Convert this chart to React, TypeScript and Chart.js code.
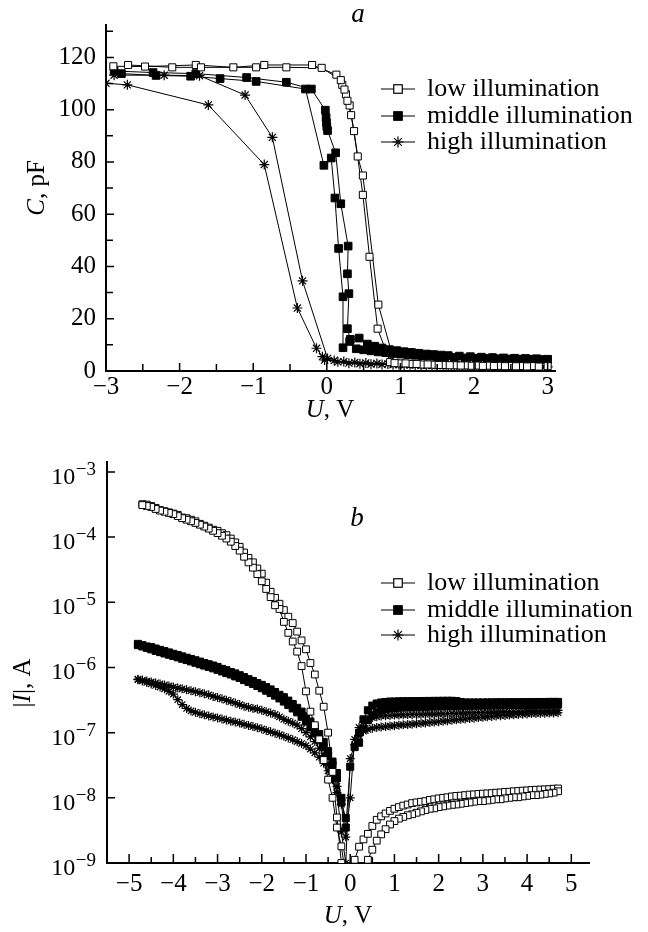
import React, { useEffect, useRef } from "react";
import { Chart, registerables } from "chart.js";

Chart.register(...registerables);

const SERIF = '"Liberation Serif", "Times New Roman", Times, serif';

const seriesNames = ["low illumination", "middle illumination", "high illumination"];

// ---------------- Panel a : C (pF) vs U (V) ----------------
const aLowU = [-2.9, -2.47, -1.78, -1.27, -0.85, -0.2, 0.13, 0.21, 0.26, 0.31, 0.37, 0.49, 0.58, 0.69, 0.86, 1.0, 1.15, 1.3, 1.45, 1.6, 1.75, 1.9, 2.05, 2.2, 2.35, 2.5, 2.65, 2.8, 3.0, 2.88, 2.72, 2.57, 2.42, 2.27, 2.12, 1.97, 1.82, 1.67, 1.52, 1.37, 1.22, 1.07, 0.92, 0.7, 0.49, 0.42, 0.33, 0.28, 0.24, 0.19, -0.07, -0.55, -0.96, -1.71, -2.1, -2.7];
const aLowC = [116.6, 116.5, 117.1, 116.2, 117.1, 117.1, 113.4, 109.5, 105.9, 101.6, 91.8, 67.4, 43.7, 16.2, 3.4, 2.9, 2.7, 2.5, 2.4, 2.3, 2.2, 2.15, 2.1, 2.05, 2.0, 1.95, 1.9, 1.9, 1.85, 1.7, 1.75, 1.8, 1.85, 1.9, 1.95, 2.0, 2.1, 2.2, 2.3, 2.5, 2.7, 2.9, 3.0, 25.4, 74.8, 82.1, 97.9, 103.4, 107.7, 111.3, 116.0, 116.2, 116.2, 116.2, 116.2, 117.1];

const aMidU = [-2.89, -2.36, -1.78, -1.09, -0.55, -0.21, -0.02, -0.01, -0.005, 0.0, 0.01, 0.12, 0.19, 0.29, 0.28, 0.3, 0.28, 0.32, 0.44, 0.55, 0.65, 0.75, 0.85, 0.95, 1.05, 1.15, 1.25, 1.35, 1.45, 1.55, 1.65, 1.8, 1.95, 2.1, 2.25, 2.4, 2.55, 2.7, 2.85, 3.0, 2.93, 2.78, 2.63, 2.48, 2.33, 2.18, 2.03, 1.88, 1.73, 1.6, 1.5, 1.4, 1.3, 1.2, 1.1, 1.0, 0.9, 0.8, 0.7, 0.6, 0.5, 0.4, 0.31, 0.22, 0.22, 0.16, 0.11, 0.06, -0.04, -0.29, -0.96, -1.45, -1.85, -2.32, -2.79];
const aMidC = [114.8, 114.2, 113.8, 112.3, 110.5, 107.9, 99.8, 97.0, 95.0, 93.5, 92.0, 83.5, 64.0, 47.8, 37.2, 29.6, 16.2, 12.1, 12.6, 10.3, 9.5, 8.8, 8.2, 7.8, 7.4, 7.1, 6.8, 6.5, 6.3, 6.1, 5.9, 5.7, 5.5, 5.3, 5.15, 5.0, 4.9, 4.8, 4.7, 4.5, 4.4, 4.5, 4.55, 4.6, 4.7, 4.8, 4.9, 5.0, 5.2, 5.35, 5.5, 5.7, 5.85, 6.0, 6.2, 6.45, 6.7, 7.0, 7.3, 7.7, 8.1, 8.5, 11.3, 8.9, 28.4, 46.9, 66.2, 81.5, 78.7, 107.9, 110.8, 111.9, 112.8, 113.1, 113.8];

const aHighU = [-2.89, -2.21, -1.73, -1.11, -0.74, -0.33, 0.01, 0.15, 0.3, 0.45, 0.6, 0.75, 0.9, 1.05, 1.2, 1.35, 1.5, 1.65, 1.8, 1.95, 2.1, 2.25, 2.4, 2.55, 2.7, 2.85, 3.0, 2.93, 2.78, 2.63, 2.48, 2.33, 2.18, 2.03, 1.88, 1.73, 1.58, 1.43, 1.28, 1.13, 0.98, 0.83, 0.68, 0.53, 0.38, 0.23, 0.1, -0.03, -0.06, -0.14, -0.4, -0.85, -1.61, -2.71, -3.0];
const aHighC = [113.2, 113.2, 113.0, 105.6, 89.4, 34.5, 4.8, 3.5, 3.0, 2.8, 2.6, 2.5, 2.4, 2.3, 2.2, 2.1, 2.05, 2.0, 1.95, 1.9, 1.85, 1.8, 1.75, 1.7, 1.7, 1.65, 1.6, 1.5, 1.55, 1.6, 1.65, 1.7, 1.75, 1.8, 1.85, 1.9, 2.0, 2.1, 2.2, 2.35, 2.5, 2.7, 2.9, 3.1, 3.3, 3.6, 4.0, 4.2, 5.5, 8.7, 24.1, 79.0, 101.8, 109.5, 110.1];

const aXLabels = [-3, -2, -1, 0, 1, 2, 3];
const aXMarks = [-3, -2.5, -2, -1.5, -1, -0.5, 0, 0.5, 1, 1.5, 2, 2.5, 3];
const aYLabels = [0, 20, 40, 60, 80, 100, 120];
const aYMarks = [0, 10, 20, 30, 40, 50, 60, 70, 80, 90, 100, 110, 120, 130];

// ---------------- Panel b : |I| (A) vs U (V) ----------------
const bLeftU = [-4.8, -4.7, -4.6, -4.5, -4.4, -4.3, -4.2, -4.1, -4.0, -3.9, -3.8, -3.7, -3.6, -3.5, -3.4, -3.3, -3.2, -3.1, -3.0, -2.9, -2.8, -2.7, -2.6, -2.5, -2.4, -2.3, -2.2, -2.1, -2.0, -1.9, -1.8, -1.7, -1.6, -1.5, -1.4, -1.3, -1.2, -1.1, -1.0, -0.9, -0.8, -0.7, -0.6, -0.5, -0.4, -0.3, -0.2, -0.1];
const bRightU = [0.0, 0.1, 0.2, 0.3, 0.4, 0.5, 0.6, 0.7, 0.8, 0.9, 1.0, 1.1, 1.2, 1.3, 1.4, 1.5, 1.6, 1.7, 1.8, 1.9, 2.0, 2.1, 2.2, 2.3, 2.4, 2.5, 2.6, 2.7, 2.8, 2.9, 3.0, 3.1, 3.2, 3.3, 3.4, 3.5, 3.6, 3.7, 3.8, 3.9, 4.0, 4.1, 4.2, 4.3, 4.4, 4.5, 4.6, 4.7];

const bLowLeft1 = [null, 3.2e-4, 3.15e-4, 3.0e-4, 2.8e-4, 2.6e-4, 2.5e-4, 2.4e-4, 2.3e-4, 2.2e-4, 2.0e-4, 1.95e-4, 1.85e-4, 1.75e-4, 1.6e-4, 1.5e-4, 1.4e-4, 1.3e-4, 1.25e-4, 1.15e-4, 1.07e-4, 9.5e-5, 8.3e-5, 7.1e-5, 5.8e-5, 4.8e-5, 4.1e-5, 3.3e-5, 2.75e-5, 2.0e-5, 1.45e-5, 1.17e-5, 9.5e-6, 7.6e-6, 6.0e-6, 4.8e-6, 3.55e-6, 2.6e-6, 1.9e-6, 1.17e-6, 7.8e-7, 4.4e-7, 2.5e-7, 1.0e-7, 2.5e-8, 5.0e-9, 1.0e-9, 2.5e-10];
const bLowLeft2 = [null, 3.1e-4, 3.0e-4, 2.9e-4, 2.7e-4, 2.55e-4, 2.45e-4, 2.35e-4, 2.25e-4, 2.1e-4, 1.95e-4, 1.85e-4, 1.75e-4, 1.65e-4, 1.55e-4, 1.45e-4, 1.35e-4, 1.25e-4, 1.15e-4, 1.05e-4, 9.5e-5, 8.5e-5, 7.3e-5, 6.2e-5, 5.0e-5, 4.1e-5, 3.4e-5, 2.7e-5, 2.1e-5, 1.6e-5, 1.2e-5, 9.0e-6, 7.9e-6, 5.0e-6, 3.4e-6, 2.5e-6, 1.75e-6, 1.05e-6, 4.3e-7, 2.1e-7, 1.3e-7, 7.9e-8, 3.8e-8, 1.9e-8, 1.0e-8, 3.5e-9, 1.8e-9, 6.3e-10];
const bLowRight1 = [null, 1.12e-9, 1.78e-9, 2.3e-9, 2.8e-9, 3.7e-9, 4.6e-9, 5.2e-9, 5.75e-9, 6.3e-9, 6.8e-9, 7.2e-9, 7.6e-9, 7.9e-9, 8.3e-9, 8.5e-9, 8.7e-9, 8.9e-9, 9.3e-9, 9.5e-9, 9.8e-9, 1.0e-8, 1.02e-8, 1.05e-8, 1.07e-8, 1.08e-8, 1.1e-8, 1.12e-8, 1.13e-8, 1.15e-8, 1.16e-8, 1.17e-8, 1.18e-8, 1.2e-8, 1.21e-8, 1.23e-8, 1.24e-8, 1.26e-8, 1.27e-8, 1.29e-8, 1.3e-8, 1.32e-8, 1.33e-8, 1.34e-8, 1.35e-8, 1.36e-8, 1.38e-8, 1.39e-8];
const bLowRight2 = [null, null, null, 6.3e-10, 1.12e-9, 1.6e-9, 2.2e-9, 2.75e-9, 3.3e-9, 3.9e-9, 4.4e-9, 4.8e-9, 5.1e-9, 5.4e-9, 5.6e-9, 5.9e-9, 6.2e-9, 6.5e-9, 6.8e-9, 6.9e-9, 7.2e-9, 7.4e-9, 7.6e-9, 7.8e-9, 7.9e-9, 8.1e-9, 8.3e-9, 8.5e-9, 8.7e-9, 8.9e-9, 8.9e-9, 9.1e-9, 9.3e-9, 9.5e-9, 9.5e-9, 9.8e-9, 1.0e-8, 1.02e-8, 1.02e-8, 1.05e-8, 1.07e-8, 1.1e-8, 1.1e-8, 1.12e-8, 1.15e-8, 1.17e-8, 1.2e-8, 1.26e-8];

const bMidLeft1 = [2.3e-6, 2.2e-6, 2.1e-6, 2.05e-6, 1.95e-6, 1.86e-6, 1.78e-6, 1.7e-6, 1.62e-6, 1.55e-6, 1.48e-6, 1.41e-6, 1.35e-6, 1.29e-6, 1.23e-6, 1.17e-6, 1.12e-6, 1.07e-6, 1.02e-6, 9.5e-7, 9.1e-7, 8.5e-7, 8.1e-7, 7.6e-7, 7.1e-7, 6.6e-7, 6.2e-7, 5.75e-7, 5.4e-7, 5.0e-7, 4.6e-7, 4.2e-7, 3.8e-7, 3.5e-7, 3.1e-7, 2.75e-7, 2.4e-7, 2.1e-7, 1.78e-7, 1.48e-7, 1.2e-7, 9.5e-8, 7.2e-8, 5.2e-8, 3.6e-8, 2.4e-8, 1.0e-8, 3.5e-9];
const bMidLeft2 = [2.2e-6, 2.1e-6, 2.0e-6, 1.9e-6, 1.8e-6, 1.72e-6, 1.64e-6, 1.57e-6, 1.5e-6, 1.43e-6, 1.36e-6, 1.3e-6, 1.24e-6, 1.18e-6, 1.12e-6, 1.07e-6, 1.02e-6, 9.7e-7, 9.2e-7, 8.7e-7, 8.2e-7, 7.8e-7, 7.3e-7, 6.9e-7, 6.4e-7, 6.0e-7, 5.6e-7, 5.2e-7, 4.8e-7, 4.4e-7, 4.05e-7, 3.7e-7, 3.35e-7, 3.0e-7, 2.65e-7, 2.35e-7, 2.05e-7, 1.75e-7, 1.48e-7, 1.2e-7, 9.8e-8, 7.8e-8, 6.0e-8, 4.4e-8, 3.2e-8, 2.0e-8, 8.5e-9, 4.9e-9];
const bMidRight1 = [3.0e-8, 6.0e-8, 1.0e-7, 1.6e-7, 2.2e-7, 2.6e-7, 2.8e-7, 2.9e-7, 2.95e-7, 3.0e-7, 3.0e-7, 3.02e-7, 3.03e-7, 3.03e-7, 3.04e-7, 3.05e-7, 3.05e-7, 3.06e-7, 3.06e-7, 3.07e-7, 3.07e-7, 3.08e-7, 3.08e-7, 3.08e-7, 3.05e-7, 2.95e-7, 2.9e-7, 2.9e-7, 2.9e-7, 2.9e-7, 2.9e-7, 2.91e-7, 2.91e-7, 2.92e-7, 2.92e-7, 2.92e-7, 2.93e-7, 2.93e-7, 2.93e-7, 2.94e-7, 2.94e-7, 2.94e-7, 2.95e-7, 2.95e-7, 2.95e-7, 2.96e-7, 2.96e-7, 2.96e-7];
const bMidRight2 = [null, null, 7.0e-8, 1.15e-7, 1.55e-7, 1.85e-7, 2.05e-7, 2.2e-7, 2.3e-7, 2.36e-7, 2.4e-7, 2.42e-7, 2.44e-7, 2.46e-7, 2.47e-7, 2.48e-7, 2.49e-7, 2.5e-7, 2.51e-7, 2.52e-7, 2.53e-7, 2.54e-7, 2.55e-7, 2.56e-7, 2.57e-7, 2.58e-7, 2.59e-7, 2.6e-7, 2.6e-7, 2.61e-7, 2.62e-7, 2.62e-7, 2.63e-7, 2.64e-7, 2.64e-7, 2.65e-7, 2.65e-7, 2.66e-7, 2.66e-7, 2.67e-7, 2.67e-7, 2.68e-7, 2.68e-7, 2.69e-7, 2.69e-7, 2.7e-7, 2.7e-7, 2.7e-7];

const bHighLeft1 = [6.6e-7, 6.4e-7, 6.2e-7, 6.0e-7, 5.8e-7, 5.6e-7, 5.4e-7, 5.2e-7, 5.0e-7, 4.85e-7, 4.7e-7, 4.55e-7, 4.4e-7, 4.25e-7, 4.1e-7, 3.95e-7, 3.8e-7, 3.6e-7, 3.45e-7, 3.3e-7, 3.15e-7, 3.0e-7, 2.85e-7, 2.7e-7, 2.55e-7, 2.45e-7, 2.35e-7, 2.3e-7, 2.2e-7, 2.1e-7, 2.0e-7, 1.9e-7, 1.75e-7, 1.6e-7, 1.5e-7, 1.4e-7, 1.3e-7, 1.15e-7, 1.0e-7, 8.6e-8, 7.3e-8, 5.8e-8, 4.4e-8, 3.2e-8, 2.3e-8, 1.5e-8, 8.0e-9, 2.5e-9];
const bHighLeft2 = [6.5e-7, 6.2e-7, 5.9e-7, 5.6e-7, 5.3e-7, 5.0e-7, 4.7e-7, 4.3e-7, 3.9e-7, 3.2e-7, 2.7e-7, 2.35e-7, 2.15e-7, 2.05e-7, 1.95e-7, 1.88e-7, 1.8e-7, 1.74e-7, 1.68e-7, 1.62e-7, 1.56e-7, 1.5e-7, 1.45e-7, 1.4e-7, 1.34e-7, 1.29e-7, 1.24e-7, 1.19e-7, 1.14e-7, 1.08e-7, 1.03e-7, 9.8e-8, 9.3e-8, 8.8e-8, 8.3e-8, 7.8e-8, 7.3e-8, 6.8e-8, 6.3e-8, 5.6e-8, 4.9e-8, 4.2e-8, 3.4e-8, 2.6e-8, 1.9e-8, 1.2e-8, 3.0e-9, 1.0e-9];
const bHighRight1 = [1.0e-8, 7.9e-8, 1.2e-7, 1.45e-7, 1.6e-7, 1.7e-7, 1.75e-7, 1.8e-7, 1.82e-7, 1.84e-7, 1.86e-7, 1.87e-7, 1.88e-7, 1.89e-7, 1.9e-7, 1.9e-7, 1.91e-7, 1.92e-7, 1.92e-7, 1.93e-7, 1.94e-7, 1.95e-7, 1.96e-7, 1.97e-7, 1.98e-7, 1.99e-7, 2.0e-7, 2.01e-7, 2.02e-7, 2.03e-7, 2.04e-7, 2.05e-7, 2.06e-7, 2.07e-7, 2.08e-7, 2.09e-7, 2.1e-7, 2.11e-7, 2.12e-7, 2.13e-7, 2.14e-7, 2.15e-7, 2.16e-7, 2.17e-7, 2.18e-7, 2.19e-7, 2.2e-7, 2.2e-7];
const bHighRight2 = [4.0e-8, 6.5e-8, 9.0e-8, 1.05e-7, 1.12e-7, 1.17e-7, 1.2e-7, 1.22e-7, 1.24e-7, 1.26e-7, 1.28e-7, 1.3e-7, 1.32e-7, 1.33e-7, 1.35e-7, 1.37e-7, 1.39e-7, 1.41e-7, 1.43e-7, 1.45e-7, 1.47e-7, 1.5e-7, 1.52e-7, 1.55e-7, 1.57e-7, 1.6e-7, 1.62e-7, 1.65e-7, 1.67e-7, 1.7e-7, 1.72e-7, 1.75e-7, 1.77e-7, 1.8e-7, 1.82e-7, 1.84e-7, 1.86e-7, 1.88e-7, 1.9e-7, 1.92e-7, 1.94e-7, 1.96e-7, 1.97e-7, 1.98e-7, 1.99e-7, 2.0e-7, 2.01e-7, 2.02e-7];

const bXLabels = [-5, -4, -3, -2, -1, 0, 1, 2, 3, 4, 5];
const bXMarks = [-5, -4.5, -4, -3.5, -3, -2.5, -2, -1.5, -1, -0.5, 0, 0.5, 1, 1.5, 2, 2.5, 3, 3.5, 4, 4.5, 5];
const bYDecades = [1e-9, 1e-8, 1e-7, 1e-6, 1e-5, 1e-4, 1e-3];
const bYExponents = ["\u22129", "\u22128", "\u22127", "\u22126", "\u22125", "\u22124", "\u22123"];

// ---------------- helpers ----------------
const fmtNum = (v: number) => (v < 0 ? "\u2212" + Math.abs(v) : String(v));

function zip(us: number[], vs: (number | null)[]) {
  return us.map((u, i) => ({ x: u, y: vs[i] }));
}

function loop(left1: (number | null)[], right1: (number | null)[], right2: (number | null)[], left2: (number | null)[]) {
  const pts: { x: number; y: number | null }[] = [];
  bLeftU.forEach((u, i) => pts.push({ x: u, y: left1[i] }));
  bRightU.forEach((u, i) => pts.push({ x: u, y: right1[i] }));
  for (let i = bRightU.length - 1; i >= 0; i--) pts.push({ x: bRightU[i], y: right2[i] });
  for (let i = bLeftU.length - 1; i >= 0; i--) pts.push({ x: bLeftU[i], y: left2[i] });
  return pts;
}

function ds(label: string, data: any[], kind: "open" | "filled" | "star", r: number) {
  return {
    label,
    data,
    showLine: true,
    spanGaps: false,
    borderColor: "#000",
    borderWidth: 1,
    tension: 0,
    fill: false,
    pointStyle: kind === "star" ? "star" : "rect",
    pointRadius: r,
    pointHoverRadius: r,
    pointBackgroundColor: kind === "open" ? "#fff" : "#000",
    pointBorderColor: "#000",
    pointBorderWidth: kind === "star" ? 1.2 : 1,
  };
}

function drawParts(ctx: CanvasRenderingContext2D, parts: { t: string; it?: boolean }[], size: number, cx: number, cy: number, rot: number) {
  ctx.save();
  ctx.translate(cx, cy);
  ctx.rotate(rot);
  ctx.fillStyle = "#000";
  ctx.textBaseline = "middle";
  ctx.textAlign = "left";
  const fonts = parts.map((p) => `${p.it ? "italic " : ""}${size}px ${SERIF}`);
  let total = 0;
  const widths = parts.map((p, i) => {
    ctx.font = fonts[i];
    const w = ctx.measureText(p.t).width;
    total += w;
    return w;
  });
  let x = -total / 2;
  parts.forEach((p, i) => {
    ctx.font = fonts[i];
    ctx.fillText(p.t, x, 0);
    x += widths[i];
  });
  ctx.restore();
}

function drawMarker(ctx: CanvasRenderingContext2D, kind: number, x: number, y: number) {
  ctx.save();
  ctx.strokeStyle = "#000";
  ctx.lineWidth = 1.2;
  if (kind === 0 || kind === 1) {
    const s = 8.5;
    ctx.fillStyle = kind === 0 ? "#fff" : "#000";
    ctx.fillRect(x - s / 2, y - s / 2, s, s);
    ctx.strokeRect(x - s / 2, y - s / 2, s, s);
  } else {
    const r = 5.5;
    ctx.beginPath();
    for (let k = 0; k < 4; k++) {
      const a = (k * Math.PI) / 4;
      ctx.moveTo(x - Math.cos(a) * r, y - Math.sin(a) * r);
      ctx.lineTo(x + Math.cos(a) * r, y + Math.sin(a) * r);
    }
    ctx.stroke();
  }
  ctx.restore();
}

function drawLegend(ctx: CanvasRenderingContext2D, x0: number, rows: number[]) {
  ctx.save();
  rows.forEach((y, i) => {
    ctx.strokeStyle = "#000";
    ctx.lineWidth = 1.2;
    ctx.beginPath();
    ctx.moveTo(x0, y);
    ctx.lineTo(x0 + 34, y);
    ctx.stroke();
    drawMarker(ctx, i, x0 + 17, y);
    ctx.fillStyle = "#000";
    ctx.font = `26px ${SERIF}`;
    ctx.textAlign = "left";
    ctx.textBaseline = "middle";
    ctx.fillText(seriesNames[i], x0 + 46, y);
  });
  ctx.restore();
}

const panelAPlugin = {
  id: "panelAExtras",
  afterDraw(chart: any) {
    const { ctx, chartArea, scales } = chart;
    const xs = scales.x;
    const ys = scales.y;
    ctx.save();
    ctx.strokeStyle = "#000";
    ctx.lineWidth = 1.5;
    ctx.beginPath();
    aXMarks.forEach((v) => {
      const p = xs.getPixelForValue(v);
      const len = Number.isInteger(v) ? 8 : 7;
      ctx.moveTo(p, chartArea.bottom);
      ctx.lineTo(p, chartArea.bottom - len);
    });
    aYMarks.forEach((v) => {
      const p = ys.getPixelForValue(v);
      const len = v % 20 === 0 ? 8 : 7;
      ctx.moveTo(chartArea.left, p);
      ctx.lineTo(chartArea.left + len, p);
    });
    ctx.stroke();
    ctx.restore();
    drawParts(ctx, [{ t: "C", it: true }, { t: ", pF" }], 25, 37, 188, -Math.PI / 2);
    drawParts(ctx, [{ t: "U", it: true }, { t: ", V" }], 25, 330, 410, 0);
    drawParts(ctx, [{ t: "a", it: true }], 27, 358, 15, 0);
    drawLegend(ctx, 381, [89, 116, 142]);
  },
};

const panelBPlugin = {
  id: "panelBExtras",
  afterDraw(chart: any) {
    const { ctx, chartArea, scales } = chart;
    const xs = scales.x;
    const ys = scales.y;
    ctx.save();
    ctx.strokeStyle = "#000";
    ctx.lineWidth = 1.5;
    ctx.beginPath();
    bXMarks.forEach((v) => {
      const p = xs.getPixelForValue(v);
      const len = Number.isInteger(v) ? 9 : 6;
      ctx.moveTo(p, chartArea.bottom);
      ctx.lineTo(p, chartArea.bottom - len);
    });
    bYDecades.forEach((v) => {
      const p = ys.getPixelForValue(v);
      ctx.moveTo(chartArea.left, p);
      ctx.lineTo(chartArea.left + 8, p);
    });
    ctx.stroke();
    ctx.fillStyle = "#000";
    ctx.textAlign = "left";
    ctx.textBaseline = "alphabetic";
    const right = 96;
    bYDecades.forEach((v, i) => {
      const y = ys.getPixelForValue(v);
      ctx.font = `19px ${SERIF}`;
      const ew = ctx.measureText(bYExponents[i]).width;
      ctx.fillText(bYExponents[i], right - ew, y + 3);
      ctx.font = `24px ${SERIF}`;
      const bw = ctx.measureText("10").width;
      ctx.fillText("10", right - ew - bw - 0.5, y + 12);
    });
    ctx.restore();
    drawParts(ctx, [{ t: "|" }, { t: "I", it: true }, { t: "|, A" }], 25, 23, 263, -Math.PI / 2);
    drawParts(ctx, [{ t: "U", it: true }, { t: ", V" }], 25, 348, 496, 0);
    drawParts(ctx, [{ t: "b", it: true }], 27, 357, 99, 0);
    drawLegend(ctx, 381, [163, 190, 215]);
  },
};

function configA(): any {
  return {
    type: "scatter",
    data: {
      datasets: [
        ds(seriesNames[0], zip(aLowU, aLowC), "open", 5),
        ds(seriesNames[1], zip(aMidU, aMidC), "filled", 5.4),
        ds(seriesNames[2], zip(aHighU, aHighC), "star", 5),
      ],
    },
    options: {
      animation: false,
      responsive: false,
      events: [],
      layout: { padding: { left: 0, top: 9, right: 93, bottom: 0 } },
      plugins: { legend: { display: false }, tooltip: { enabled: false }, title: { display: false } },
      scales: {
        x: {
          type: "linear",
          min: -3,
          max: 3.1,
          afterBuildTicks: (s: any) => {
            s.ticks = aXLabels.map((v) => ({ value: v }));
          },
          afterFit: (s: any) => {
            s.height = 49;
          },
          grid: { display: false, drawTicks: false },
          border: { display: true, color: "#000", width: 2 },
          ticks: {
            color: "#000",
            font: { family: SERIF, size: 25 },
            padding: 1,
            maxRotation: 0,
            autoSkip: false,
            callback: (v: any) => fmtNum(Number(v)),
          },
        },
        y: {
          type: "linear",
          min: 0,
          max: 132.4,
          afterBuildTicks: (s: any) => {
            s.ticks = aYLabels.map((v) => ({ value: v }));
          },
          afterFit: (s: any) => {
            s.width = 106;
          },
          grid: { display: false, drawTicks: false },
          border: { display: true, color: "#000", width: 2 },
          ticks: {
            color: "#000",
            font: { family: SERIF, size: 25 },
            padding: 10,
            autoSkip: false,
            callback: (v: any) => fmtNum(Number(v)),
          },
        },
      },
    },
    plugins: [panelAPlugin],
  };
}

function configB(): any {
  return {
    type: "scatter",
    data: {
      datasets: [
        ds(seriesNames[0], loop(bLowLeft1, bLowRight1, bLowRight2, bLowLeft2), "open", 4.8),
        ds(seriesNames[1], loop(bMidLeft1, bMidRight1, bMidRight2, bMidLeft2), "filled", 5),
        ds(seriesNames[2], loop(bHighLeft1, bHighRight1, bHighRight2, bHighLeft2), "star", 4.5),
      ],
    },
    options: {
      animation: false,
      responsive: false,
      events: [],
      layout: { padding: { left: 0, top: 42, right: 59, bottom: 0 } },
      plugins: { legend: { display: false }, tooltip: { enabled: false }, title: { display: false } },
      scales: {
        x: {
          type: "linear",
          min: -5.5,
          max: 5.4,
          afterBuildTicks: (s: any) => {
            s.ticks = bXLabels.map((v) => ({ value: v }));
          },
          afterFit: (s: any) => {
            s.height = 69;
          },
          grid: { display: false, drawTicks: false },
          border: { display: true, color: "#000", width: 2 },
          ticks: {
            color: "#000",
            font: { family: SERIF, size: 25 },
            padding: 6,
            maxRotation: 0,
            autoSkip: false,
            callback: (v: any) => fmtNum(Number(v)),
          },
        },
        y: {
          type: "logarithmic",
          min: 1e-9,
          max: 1.42e-3,
          afterBuildTicks: (s: any) => {
            s.ticks = bYDecades.map((v) => ({ value: v, major: true }));
          },
          afterFit: (s: any) => {
            s.width = 107;
          },
          grid: { display: false, drawTicks: false },
          border: { display: true, color: "#000", width: 2 },
          ticks: { display: false },
        },
      },
    },
    plugins: [panelBPlugin],
  };
}

export default function App() {
  const refA = useRef<HTMLCanvasElement>(null);
  const refB = useRef<HTMLCanvasElement>(null);
  useEffect(() => {
    const a = new Chart(refA.current as HTMLCanvasElement, configA());
    const b = new Chart(refB.current as HTMLCanvasElement, configB());
    return () => {
      a.destroy();
      b.destroy();
    };
  }, []);
  return (
    <div style={{ position: "absolute", left: 0, top: 0, width: 648, height: 932, background: "#fff" }}>
      <canvas ref={refA} width={648} height={420} style={{ position: "absolute", left: 0, top: 0, width: 648, height: 420 }} />
      <canvas ref={refB} width={648} height={512} style={{ position: "absolute", left: 0, top: 420, width: 648, height: 512 }} />
    </div>
  );
}
